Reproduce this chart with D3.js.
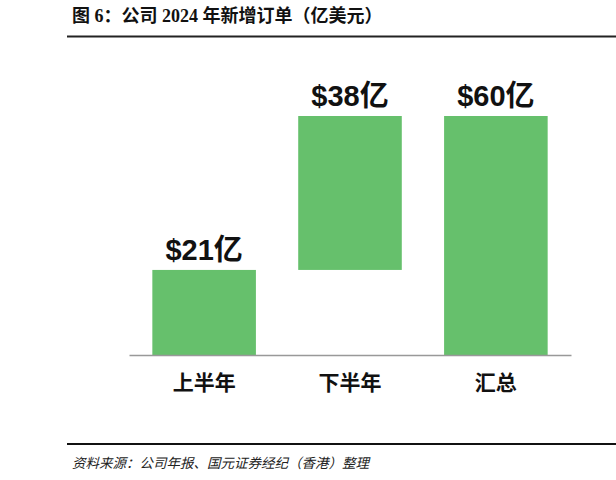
<!DOCTYPE html>
<html>
<head>
<meta charset="utf-8">
<script src="https://cdn.jsdelivr.net/npm/d3@7"></script>
<style>
  body { margin: 0; background: #fff; }
  svg { display: block; }
</style>
</head>
<body>
<script>
// data
var categories = ["上半年", "下半年", "汇总"];
var barStart = [0, 21, 0];
var barEnd = [21, 59, 59];
var valueLabels = ["$21亿", "$38亿", "$60亿"];

var title = "图 6：公司 2024 年新增订单（亿美元）";
var source = "资料来源：公司年报、国元证券经纪（香港）整理";

var width = 616, height = 480;
var barColor = "#66c06c";

var svg = d3.select("body").append("svg")
  .attr("width", width)
  .attr("height", height);

// title + rule
svg.append("text")
  .attr("x", 72)
  .attr("y", 22)
  .style("font-family", "'Liberation Serif', 'Noto Sans CJK SC', serif")
  .style("font-weight", "bold")
  .style("font-size", "18px")
  .attr("fill", "#111")
  .text(title);

svg.append("line")
  .attr("x1", 67).attr("x2", width)
  .attr("y1", 36.5).attr("y2", 36.5)
  .attr("stroke", "#222")
  .attr("stroke-width", 2);

// chart
var x = d3.scaleBand()
  .domain(categories)
  .range([129, 571])
  .paddingInner(0.29)
  .paddingOuter(0.16);

var y = d3.scaleLinear()
  .domain([0, 59])
  .range([355, 116]);

svg.append("g")
  .selectAll("rect")
  .data(categories)
  .enter()
  .append("rect")
  .attr("x", function(d){ return x(d); })
  .attr("width", x.bandwidth())
  .attr("y", function(d, i){ return y(barEnd[i]); })
  .attr("height", function(d, i){ return y(barStart[i]) - y(barEnd[i]); })
  .attr("fill", barColor);

svg.append("g")
  .selectAll("text")
  .data(categories)
  .enter()
  .append("text")
  .attr("x", function(d){ return x(d) + x.bandwidth() / 2; })
  .attr("y", function(d, i){ return y(barEnd[i]) - 10; })
  .attr("text-anchor", "middle")
  .style("font-family", "'Liberation Sans', 'Noto Sans CJK SC', sans-serif")
  .style("font-weight", "bold")
  .style("font-size", "29px")
  .attr("fill", "#111")
  .text(function(d, i){ return valueLabels[i]; });

// axis: baseline and category labels only
var xAxis = svg.append("g")
  .attr("transform", "translate(0,355)")
  .call(d3.axisBottom(x).tickSize(0).tickPadding(20));

xAxis.select(".domain")
  .attr("stroke", "#999")
  .attr("stroke-width", 1.3);

xAxis.selectAll("text")
  .style("font-family", "'Noto Sans CJK SC', sans-serif")
  .style("font-weight", "bold")
  .style("font-size", "21px")
  .attr("fill", "#111");

// footer
svg.append("line")
  .attr("x1", 67).attr("x2", width)
  .attr("y1", 444).attr("y2", 444)
  .attr("stroke", "#111")
  .attr("stroke-width", 2);

svg.append("text")
  .attr("x", 72)
  .attr("y", 468)
  .style("font-family", "'Noto Sans CJK SC', sans-serif")
  .style("font-style", "italic")
  .style("font-size", "13.5px")
  .attr("fill", "#222")
  .text(source);
</script>
</body>
</html>
